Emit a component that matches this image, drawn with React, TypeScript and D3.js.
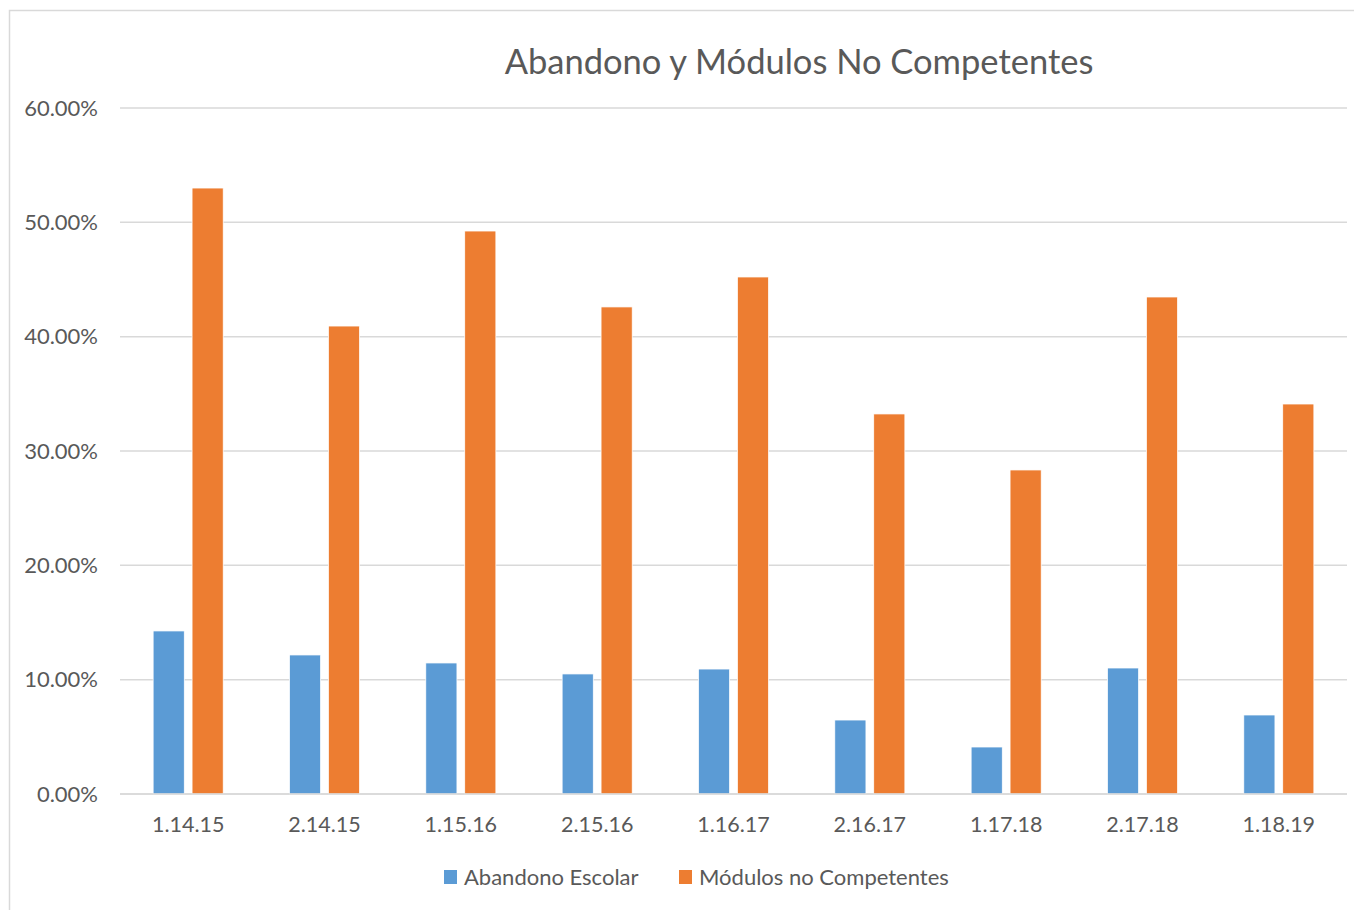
import React from "react";
import * as d3 from "d3";

const categories = ["1.14.15", "2.14.15", "1.15.16", "2.15.16", "1.16.17", "2.16.17", "1.17.18", "2.17.18", "1.18.19"];
const abandono = [14.26, 12.16, 11.46, 10.5, 10.93, 6.47, 4.11, 11.02, 6.91];
const modulos = [53.0, 40.93, 49.24, 42.6, 45.22, 33.24, 28.34, 43.47, 34.11];
const yTicks = [0, 10, 20, 30, 40, 50, 60];
const seriesNames = ["Abandono Escolar", "Módulos no Competentes"];
const seriesColors = ["#5B9BD5", "#ED7D31"];

export default function App() {
  const W = 1354, H = 910;
  const left = 120, right = 1347, top = 108, bottom = 794;
  const x = d3.scaleBand<string>().domain(categories).range([left, right]).paddingInner(0.486).paddingOuter(0.243);
  const sub = d3.scaleBand<number>().domain([0, 1]).range([0, x.bandwidth()]).paddingInner(0.2).paddingOuter(0);
  const y = d3.scaleLinear().domain([0, 60]).range([bottom, top]);
  const font = "Lato, 'Open Sans', sans-serif";
  const txt = "#595959";
  const series = [abandono, modulos];
  return (
    <svg width={W} height={H} style={{ position: "absolute", left: 0, top: 0, background: "#fff" }}>
      <rect x={9.5} y={10.5} width={W + 20} height={H + 20} fill="#fff" stroke="#d9d9d9" strokeWidth={1.5} />
      <text x={799} y={74} textAnchor="middle" fontFamily={font} fontSize={34.5} fill={txt}>Abandono y Módulos No Competentes</text>
      {yTicks.map(t => (
        <g key={t}>
          <line x1={left} x2={right} y1={y(t)} y2={y(t)} stroke="#d9d9d9" strokeWidth={1.5} />
          <text x={98} y={y(t) + 7.5} textAnchor="end" fontFamily={font} fontSize={22} fill={txt}>{t.toFixed(2)}%</text>
        </g>
      ))}
      {categories.map((c, i) => (
        <g key={c}>
          {series.map((s, j) => (
            <rect key={j} x={(x(c) as number) + (sub(j) as number)} y={y(s[i])} width={sub.bandwidth()} height={bottom - y(s[i])}
              fill={seriesColors[j]} stroke="#fff" strokeWidth={0.75} />
          ))}
          <text x={(x(c) as number) + x.bandwidth() / 2} y={832} textAnchor="middle" fontFamily={font} fontSize={21.5} fill={txt}>{c}</text>
        </g>
      ))}
      <line x1={left} x2={right} y1={bottom} y2={bottom} stroke="#d9d9d9" strokeWidth={1.5} />
      {[444, 679].map((lx, j) => (
        <g key={j}>
          <rect x={lx} y={870} width={13} height={14} fill={seriesColors[j]} />
          <text x={lx + 20} y={885} fontFamily={font} fontSize={22} fill={txt}>{seriesNames[j]}</text>
        </g>
      ))}
    </svg>
  );
}
